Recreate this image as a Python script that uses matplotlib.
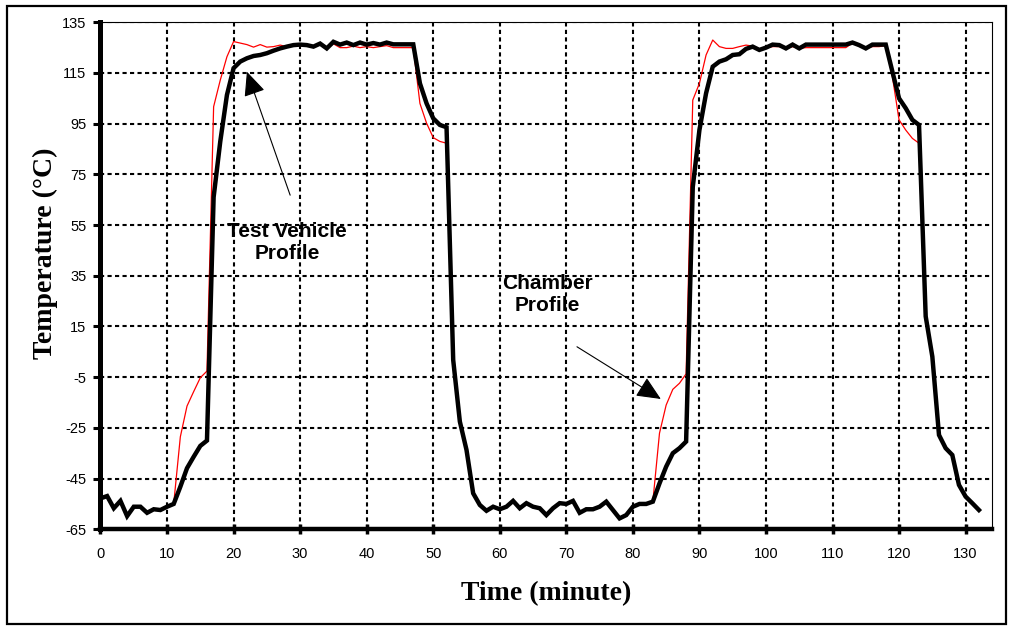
import matplotlib
matplotlib.use("Agg")
import matplotlib.pyplot as plt
from matplotlib.patches import Rectangle

plt.rcParams['axes.unicode_minus'] = False

# time axis, one sample a minute
minutes = list(range(0, 133))

# test vehicle temperature (thick black curve)
vehicle_temp = [
    -52.8, -51.9, -56.7, -53.8, -59.8, -56.1, -56.1, -58.5, -57.1, -57.4,
    -56.1, -55.0, -48.2, -40.9, -36.4, -32.1, -30.0, 66.0, 88.0, 106.3,
    116.9, 119.5, 120.8, 121.7, 122.1, 122.8, 123.8, 124.7, 125.4, 126.0,
    126.2, 126.0, 125.4, 126.6, 124.7, 127.3, 126.2, 127.0, 126.0, 127.0,
    126.2, 126.8, 126.2, 127.0, 126.3, 126.3, 126.3, 126.3, 110.9, 103.0,
    97.1, 94.5, 93.6, 1.8, -22.5, -33.7, -50.8, -55.4, -57.7, -56.1,
    -57.1, -56.1, -53.8, -56.7, -54.7, -56.1, -56.7, -59.4, -56.7, -54.7,
    -55.0, -53.8, -58.5, -57.1, -57.1, -56.1, -54.1, -57.4, -60.7, -59.4,
    -56.1, -55.0, -55.0, -54.1, -46.9, -40.3, -35.0, -33.0, -30.4, 70.0,
    92.5, 107.0, 117.5, 119.5, 120.4, 122.1, 122.4, 124.5, 125.4, 124.1,
    125.0, 126.2, 126.0, 124.7, 126.2, 124.7, 126.2, 126.2, 126.2, 126.2,
    126.2, 126.2, 126.2, 127.0, 126.0, 124.7, 126.2, 126.2, 126.2, 115.5,
    105.0, 101.1, 96.5, 94.5, 19.0, 3.1, -27.8, -33.0, -35.7, -47.5,
    -52.1, -54.7, -57.4,
]

# chamber temperature (thin red curve)
chamber_temp = [
    -52.8, -51.9, -56.7, -53.8, -59.8, -56.1, -56.1, -58.5, -57.1, -57.4,
    -56.1, -55.0, -28.5, -16.4, -10.7, -5.2, -2.6, 101.7, 112.2, 121.4,
    127.4, 126.8, 126.2, 125.2, 126.2, 125.2, 125.4, 126.0, 125.4, 125.8,
    125.8, 125.6, 125.2, 126.2, 124.7, 126.5, 125.0, 125.0, 125.6, 125.0,
    125.4, 125.0, 125.4, 125.8, 125.0, 125.0, 125.0, 125.0, 103.0, 95.2,
    89.5, 88.0, 87.3, 1.8, -22.5, -33.7, -50.8, -55.4, -57.7, -56.1,
    -57.1, -56.1, -53.8, -56.7, -54.7, -56.1, -56.7, -59.4, -56.7, -54.7,
    -55.0, -53.8, -58.5, -57.1, -57.1, -56.1, -54.1, -57.4, -60.7, -59.4,
    -56.1, -55.0, -55.0, -54.1, -27.1, -16.0, -9.8, -7.4, -3.7, 104.3,
    110.9, 122.1, 128.0, 125.4, 124.7, 124.7, 125.4, 126.0, 125.6, 124.5,
    125.0, 125.4, 125.4, 124.7, 125.4, 124.7, 125.0, 125.0, 125.0, 125.0,
    125.0, 125.0, 125.0, 126.8, 125.6, 124.7, 125.4, 125.4, 125.8, 113.5,
    96.5, 92.5, 89.2, 87.3, 19.0, 3.1, -27.8, -33.0, -35.7, -47.5,
    -52.1, -54.7, -57.4,
]

x_ticks = list(range(0, 131, 10))
y_ticks = list(range(-65, 136, 20))

fig = plt.figure(figsize=(10.13, 6.26), dpi=100)
ax = fig.add_axes([0.0992, 0.1545, 0.8803, 0.8099])

ax.plot(minutes, chamber_temp, color='#ff0000', lw=0.9, zorder=3)
ax.plot(minutes, vehicle_temp, color='black', lw=3.2, zorder=4,
        solid_joinstyle='miter')

ax.set_xlim(0, 134)
ax.set_ylim(-65, 135)
ax.set_xticks(x_ticks)
ax.set_yticks(y_ticks)

# dotted grid like the spreadsheet original
ax.grid(True, color='black', lw=1.5, linestyle=(0, (2, 1.6)), zorder=1)

for side in ['top', 'right']:
    ax.spines[side].set_linewidth(0.8)
ax.spines['left'].set_linewidth(3.6)
ax.spines['bottom'].set_linewidth(3.2)

ax.tick_params(axis='y', direction='out', length=5, width=2.2, pad=5,
               labelsize=10.5)
ax.tick_params(axis='x', direction='inout', length=7, width=2.5, pad=9,
               labelsize=10.5)
for lab in ax.get_xticklabels() + ax.get_yticklabels():
    lab.set_family('Liberation Sans')

ax.set_xlabel('Time (minute)', family='Liberation Serif', fontweight='bold',
              fontsize=20)
ax.set_ylabel('Temperature (°C)', family='Liberation Serif', fontweight='bold',
              fontsize=20)
ax.xaxis.set_label_coords(0.5, -0.102)
ax.yaxis.set_label_coords(-0.048, 0.545)

# annotations
arrow = dict(arrowstyle='-|>,head_length=1.0,head_width=0.45', mutation_scale=15,
             lw=0.8, color='black', shrinkA=0, shrinkB=0)
ax.annotate('', xy=(22.0, 115.5), xytext=(28.5, 66.8), arrowprops=arrow, zorder=5)
ax.text(28.0, 48.0, 'Test Vehicle\nProfile', ha='center', va='center',
        family='Liberation Sans', fontweight='bold', fontsize=15,
        linespacing=1.2, zorder=5)
ax.annotate('', xy=(84.2, -13.6), xytext=(71.6, 7.0), arrowprops=arrow, zorder=5)
ax.text(67.1, 27.5, 'Chamber\nProfile', ha='center', va='center',
        family='Liberation Sans', fontweight='bold', fontsize=15,
        linespacing=1.2, zorder=5)

# frame round the whole picture
fig.patches.append(Rectangle((7 / 1013, 2 / 626), 999 / 1013, 618 / 626,
                             transform=fig.transFigure, fill=False,
                             lw=1.6, edgecolor='black'))

fig.savefig('out.png', dpi=100)
